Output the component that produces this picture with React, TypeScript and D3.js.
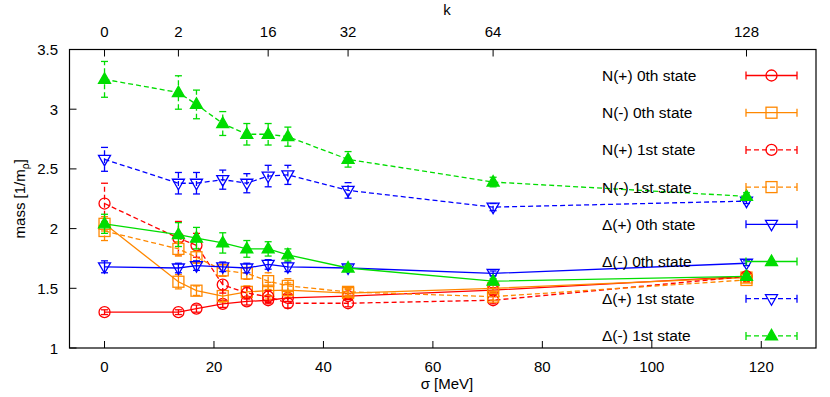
import React from "react";
import * as d3 from "d3";

const sigma = [0, 13.5, 16.8, 21.6, 26.0, 29.9, 33.5, 44.5, 71.0, 117.3];
const kTickPos = [0, 13.5, 29.9, 44.5, 71.0, 117.3];
const kTickLabels = ["0", "2", "16", "32", "64", "128"];
const xTicks = [0, 20, 40, 60, 80, 100, 120];
const yTicks = [1, 1.5, 2, 2.5, 3, 3.5];

const labels = [
  "N(+) 0th state",
  "N(-) 0th state",
  "N(+) 1st state",
  "N(-) 1st state",
  "Δ(+) 0th state",
  "Δ(-) 0th state",
  "Δ(+) 1st state",
  "Δ(-) 1st state",
];
const colors = ["#ff0000", "#ff8800", "#ff0000", "#ff8800", "#0000ff", "#00dd00", "#0000ff", "#00dd00"];
const dashed = [false, false, true, true, false, false, true, true];
const markers = ["circle", "square", "circle", "square", "down", "up", "down", "up"];

const nPlus0 = [1.30, 1.30, 1.33, 1.37, 1.39, 1.40, 1.42, 1.435, 1.485, 1.60];
const nMinus0 = [2.04, 1.555, 1.48, 1.435, 1.47, 1.48, 1.485, 1.46, 1.50, 1.59];
const nPlus1 = [2.21, 1.92, 1.86, 1.53, 1.46, 1.43, 1.375, 1.375, 1.40, 1.60];
const nMinus1 = [1.98, 1.83, 1.76, 1.65, 1.625, 1.56, 1.52, 1.47, 1.43, 1.57];
const dPlus0 = [1.68, 1.67, 1.69, 1.68, 1.67, 1.70, 1.68, 1.67, 1.625, 1.71];
const dMinus0 = [2.04, 1.95, 1.92, 1.88, 1.83, 1.83, 1.78, 1.67, 1.56, 1.60];
const dPlus1 = [2.58, 2.38, 2.38, 2.41, 2.38, 2.44, 2.45, 2.32, 2.18, 2.23];
const dMinus1 = [3.25, 3.14, 3.04, 2.88, 2.79, 2.79, 2.77, 2.58, 2.39, 2.27];

const eNPlus0 = [0.02, 0.02, 0.03, 0.03, 0.03, 0.03, 0.03, 0.02, 0.02, 0.02];
const eNMinus0 = [0.06, 0.06, 0.04, 0.05, 0.05, 0.07, 0.06, 0.03, 0.03, 0.02];
const eNPlus1 = [0.17, 0.14, 0.1, 0.07, 0.05, 0.05, 0.04, 0.03, 0.03, 0.02];
const eNMinus1 = [0.08, 0.06, 0.05, 0.05, 0.05, 0.07, 0.06, 0.03, 0.03, 0.02];
const eDPlus0 = [0.05, 0.04, 0.04, 0.04, 0.04, 0.04, 0.04, 0.02, 0.02, 0.02];
const eDMinus0 = [0.08, 0.1, 0.09, 0.085, 0.07, 0.06, 0.05, 0.02, 0.02, 0.02];
const eDPlus1 = [0.1, 0.09, 0.09, 0.08, 0.08, 0.09, 0.08, 0.065, 0.03, 0.02];
const eDMinus1 = [0.15, 0.14, 0.12, 0.1, 0.09, 0.09, 0.08, 0.065, 0.04, 0.03];

const values = [nPlus0, nMinus0, nPlus1, nMinus1, dPlus0, dMinus0, dPlus1, dMinus1];
const errors = [eNPlus0, eNMinus0, eNPlus1, eNMinus1, eDPlus0, eDMinus0, eDPlus1, eDMinus1];

const W = 830, H = 397;
const L = 69.5, R = 816, T = 49.5, B = 348;
const FONT = "'Liberation Sans', Arial, Helvetica, sans-serif";

function Marker({ type, x, y, color }: { type: string; x: number; y: number; color: string }) {
  const sw = 1.3;
  if (type === "circle") return <circle cx={x} cy={y} r={5.5} fill="none" stroke={color} strokeWidth={sw} />;
  if (type === "square") return <rect x={x - 5.5} y={y - 5.5} width={11} height={11} fill="none" stroke={color} strokeWidth={sw} />;
  if (type === "down")
    return <path d={`M${x - 6},${y - 4}L${x + 6},${y - 4}L${x},${y + 6.5}Z`} fill="none" stroke={color} strokeWidth={sw} />;
  return <path d={`M${x - 6},${y + 4}L${x + 6},${y + 4}L${x},${y - 6.5}Z`} fill={color} stroke={color} strokeWidth={sw} />;
}

export default function App() {
  const x = d3.scaleLinear().domain([-6.4, 130]).range([L, R]);
  const y = d3.scaleLinear().domain([1, 3.5]).range([B, T]);
  const line = d3.line<[number, number]>().x((d) => x(d[0])).y((d) => y(d[1]));
  const legendY = (i: number) => 75.5 + i * 37.2;
  const lx0 = 746, lx1 = 797, lmx = 771.5;

  return (
    <svg width={W} height={H} style={{ position: "absolute", left: 0, top: 0, background: "#fff" }} fontFamily={FONT}>
      <rect x={0} y={0} width={W} height={H} fill="#fff" />
      <rect x={L} y={T} width={R - L} height={B - T} fill="none" stroke="#000" strokeWidth={1.2} />
      {xTicks.map((t) => (
        <g key={"xt" + t}>
          <line x1={x(t)} x2={x(t)} y1={B} y2={B - 7} stroke="#000" strokeWidth={1} />
          <text x={x(t)} y={371.5} fontSize={15} textAnchor="middle">{t}</text>
        </g>
      ))}
      {kTickPos.map((t, i) => (
        <g key={"kt" + i}>
          <line x1={x(t)} x2={x(t)} y1={T} y2={T + 7} stroke="#000" strokeWidth={1} />
          <text x={x(t)} y={36.5} fontSize={15} textAnchor="middle">{kTickLabels[i]}</text>
        </g>
      ))}
      {yTicks.map((t) => (
        <g key={"yt" + t}>
          <line x1={L} x2={L + 7} y1={y(t)} y2={y(t)} stroke="#000" strokeWidth={1} />
          <text x={58} y={y(t) + 5.5} fontSize={15} textAnchor="end">{t}</text>
        </g>
      ))}
      <text x={447} y={389} fontSize={15} textAnchor="middle">σ [MeV]</text>
      <text x={447} y={15} fontSize={15} textAnchor="middle">k</text>
      <text transform={`translate(25,${(T + B) / 2}) rotate(-90)`} fontSize={15} textAnchor="middle">
        mass [1/m<tspan fontSize={10.5} dy={4}>ρ</tspan><tspan dy={-4}>]</tspan>
      </text>
      {values.map((vals, si) => {
        const c = colors[si];
        const dash = dashed[si] ? "5,3" : undefined;
        const pts = sigma.map((s, i) => [s, vals[i]] as [number, number]);
        return (
          <g key={"s" + si}>
            <path d={line(pts) || ""} fill="none" stroke={c} strokeWidth={1.3} strokeDasharray={dash} />
            {pts.map((p, i) => {
              const e = errors[si][i];
              const px = x(p[0]);
              const y1 = y(p[1] - e), y2 = y(p[1] + e);
              return (
                <g key={i}>
                  <line x1={px} x2={px} y1={y1} y2={y2} stroke={c} strokeWidth={1.3} strokeDasharray={dash} />
                  <line x1={px - 3.5} x2={px + 3.5} y1={y1} y2={y1} stroke={c} strokeWidth={1.3} />
                  <line x1={px - 3.5} x2={px + 3.5} y1={y2} y2={y2} stroke={c} strokeWidth={1.3} />
                  <Marker type={markers[si]} x={px} y={y(p[1])} color={c} />
                </g>
              );
            })}
          </g>
        );
      })}
      {labels.map((lab, i) => {
        const ly = legendY(i);
        const c = colors[i];
        const dash = dashed[i] ? "5,3" : undefined;
        return (
          <g key={"lg" + i}>
            <text x={602} y={ly + 5.5} fontSize={15.5}>{lab}</text>
            <line x1={lx0} x2={lx1} y1={ly} y2={ly} stroke={c} strokeWidth={1.3} strokeDasharray={dash} />
            <line x1={lx0} x2={lx0} y1={ly - 4} y2={ly + 4} stroke={c} strokeWidth={1.3} />
            <line x1={lx1} x2={lx1} y1={ly - 4} y2={ly + 4} stroke={c} strokeWidth={1.3} />
            <Marker type={markers[i]} x={lmx} y={ly} color={c} />
          </g>
        );
      })}
    </svg>
  );
}
